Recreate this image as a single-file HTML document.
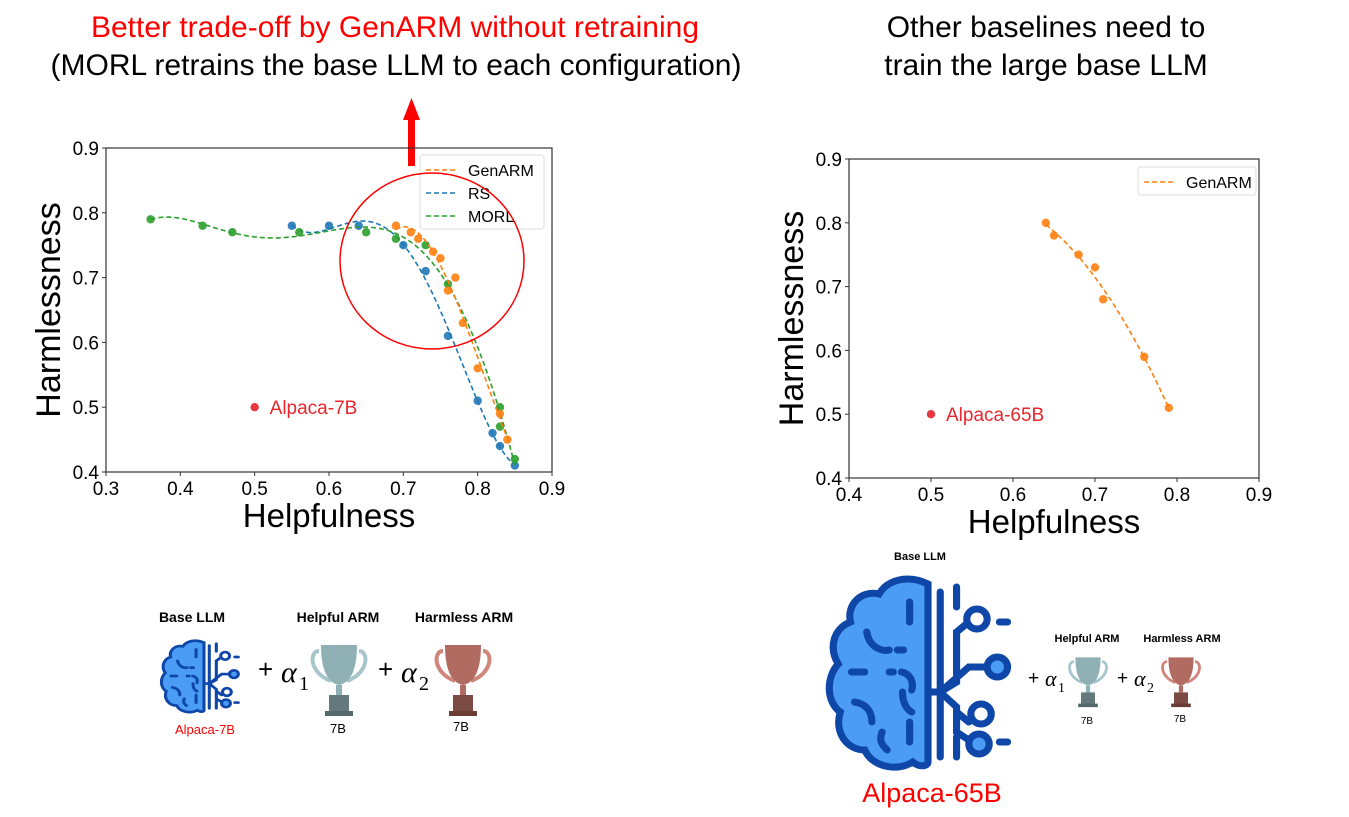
<!DOCTYPE html>
<html><head><meta charset="utf-8"><style>
body{margin:0;width:1349px;height:817px;background:#fff;overflow:hidden;font-family:"Liberation Sans","DejaVu Sans",sans-serif}
svg{position:absolute;left:0;top:0}
</style></head><body>
<svg id="s" width="1349" height="817" viewBox="0 0 1349 817">
<defs>
<g id="brain">
<path d="M100,12 C80,2 60,8 52,22 C35,18 20,32 24,50 C8,56 2,75 12,92 C0,105 0,130 14,140 C8,160 20,178 38,178 C45,195 70,200 85,190 C92,196 100,194 100,190 Z" fill="#4a9cf5" stroke="#0e47a8" stroke-width="7"/>
<g stroke="#0e47a8" stroke-width="7" fill="none" stroke-linecap="round">
<path d="M82,30 L82,50 M40,60 C42,75 55,80 62,78 M70,78 L76,78 M25,100 L38,100 M62,100 L66,100 M74,100 C84,102 86,112 84,118 M28,130 C40,132 45,140 45,150 M75,120 C75,132 80,138 84,140 M82,150 L82,170 M55,160 C52,168 54,172 60,178"/>
<path d="M112,20 L112,185 M128,15 L128,35 M128,165 L128,185 M100,120 L112,120 M112,120 L128,110 L128,60 L140,50 M112,120 L140,95 L160,95 M112,120 L128,135 L128,140 L140,150 M128,140 L128,160 L140,168 M170,50 L178,50 M170,170 L178,170"/>
</g>
<circle cx="148" cy="47" r="10" fill="#fff" stroke="#0e47a8" stroke-width="7"/>
<circle cx="168" cy="95" r="10" fill="#4a9cf5" stroke="#0e47a8" stroke-width="7"/>
<circle cx="152" cy="142" r="10" fill="#fff" stroke="#0e47a8" stroke-width="7"/>
<circle cx="150" cy="172" r="10" fill="#4a9cf5" stroke="#0e47a8" stroke-width="7"/>
</g>
<g id="cupA">
<path d="M10,8 C0,8 0,30 22,38 M50,8 C60,8 60,30 38,38" fill="none" stroke="#a7c6cc" stroke-width="4"/>
<path d="M12,2 L48,2 C48,30 40,40 30,42 C20,40 12,30 12,2 Z" fill="#8fb0b4"/>
<rect x="27" y="42" width="6" height="10" fill="#8fb0b4"/>
<rect x="20" y="52" width="20" height="18" fill="#65797c"/>
<rect x="16" y="68" width="28" height="5" fill="#55696c"/>
</g>
<g id="cupB">
<path d="M10,8 C0,8 0,30 22,38 M50,8 C60,8 60,30 38,38" fill="none" stroke="#d0867a" stroke-width="4"/>
<path d="M12,2 L48,2 C48,30 40,40 30,42 C20,40 12,30 12,2 Z" fill="#b26b60"/>
<rect x="27" y="42" width="6" height="10" fill="#b26b60"/>
<rect x="20" y="52" width="20" height="18" fill="#7a4a43"/>
<rect x="16" y="68" width="28" height="5" fill="#6a3c36"/>
</g>
<clipPath id="clipL"><rect x="106" y="148" width="446" height="324"/></clipPath>
<clipPath id="clipR"><rect x="849" y="159" width="410" height="319"/></clipPath>
</defs>
<text x="395" y="37" font-size="30" fill="#ff0000" text-anchor="middle">Better trade-off by GenARM without retraining</text>
<text x="396" y="75" font-size="30" fill="#000" text-anchor="middle">(MORL retrains the base LLM to each configuration)</text>
<text x="1046" y="37" font-size="30" fill="#000" text-anchor="middle">Other baselines need to</text>
<text x="1046" y="75" font-size="30" fill="#000" text-anchor="middle">train the large base LLM</text>
<g><rect x="408" y="118" width="7" height="48" fill="#f00"/><polygon points="403,120 420,120 411.5,98" fill="#f00"/></g>
<g id="left"></g>
<g id="right"></g>
<ellipse cx="432" cy="261" rx="92" ry="88" fill="none" stroke="#f00" stroke-width="1.5"/>
<g font-weight="bold" font-size="14">
<text x="192" y="622" text-anchor="middle">Base LLM</text>
<use href="#brain" transform="translate(160,638) scale(0.44,0.38)"/>
<text x="205" y="734" text-anchor="middle" fill="#f00" font-weight="normal" font-size="13">Alpaca-7B</text>
<text x="338" y="622" text-anchor="middle">Helpful ARM</text>
<text x="464" y="622" text-anchor="middle">Harmless ARM</text>
<text x="258" y="678" font-size="26" font-weight="normal">+</text>
<text x="281" y="682" font-size="30" font-weight="normal" font-style="italic" font-family="Liberation Serif,serif">α</text><text x="299" y="690" font-size="20" font-weight="normal" font-family="Liberation Serif,serif">1</text>
<use href="#cupA" transform="translate(309,643)"/>
<text x="378" y="678" font-size="26" font-weight="normal">+</text>
<text x="401" y="682" font-size="30" font-weight="normal" font-style="italic" font-family="Liberation Serif,serif">α</text><text x="419" y="690" font-size="20" font-weight="normal" font-family="Liberation Serif,serif">2</text>
<use href="#cupB" transform="translate(433,643)"/>
<text x="338" y="733" text-anchor="middle" font-weight="normal" font-size="13">7B</text>
<text x="461" y="731" text-anchor="middle" font-weight="normal" font-size="13">7B</text>
</g>
<g font-weight="bold" font-size="11">
<text x="920" y="560" text-anchor="middle">Base LLM</text>
<use href="#brain" transform="translate(826,572) scale(1.02,1.0)"/>
<text x="932" y="802" text-anchor="middle" fill="#f00" font-weight="normal" font-size="27">Alpaca-65B</text>
<text x="1087" y="642" text-anchor="middle">Helpful ARM</text>
<text x="1182" y="642" text-anchor="middle">Harmless ARM</text>
<text x="1028" y="684" font-size="19" font-weight="normal">+</text>
<text x="1045" y="686" font-size="22" font-weight="normal" font-style="italic" font-family="Liberation Serif,serif">α</text><text x="1058" y="692" font-size="14" font-weight="normal" font-family="Liberation Serif,serif">1</text>
<use href="#cupA" transform="translate(1067,656) scale(0.7)"/>
<text x="1117" y="684" font-size="19" font-weight="normal">+</text>
<text x="1134" y="686" font-size="22" font-weight="normal" font-style="italic" font-family="Liberation Serif,serif">α</text><text x="1147" y="692" font-size="14" font-weight="normal" font-family="Liberation Serif,serif">2</text>
<use href="#cupB" transform="translate(1160,656) scale(0.7)"/>
<text x="1087" y="724" text-anchor="middle" font-weight="normal" font-size="10">7B</text>
<text x="1180" y="722" text-anchor="middle" font-weight="normal" font-size="10">7B</text>
</g>
</svg>
<script>
const genX=[0.69,0.71,0.72,0.74,0.75,0.77,0.76,0.78,0.80,0.83,0.84];
const genY=[0.78,0.77,0.76,0.74,0.73,0.70,0.68,0.63,0.56,0.49,0.45];
const rsX=[0.55,0.60,0.64,0.70,0.73,0.76,0.80,0.82,0.83,0.85];
const rsY=[0.78,0.78,0.78,0.75,0.71,0.61,0.51,0.46,0.44,0.41];
const morlX=[0.36,0.43,0.47,0.56,0.65,0.69,0.73,0.76,0.83,0.83,0.85];
const morlY=[0.79,0.78,0.77,0.77,0.77,0.76,0.75,0.69,0.50,0.47,0.42];
const gen65X=[0.64,0.65,0.68,0.70,0.71,0.76,0.79];
const gen65Y=[0.80,0.78,0.75,0.73,0.68,0.59,0.51];
const leftXTicks=["0.3","0.4","0.5","0.6","0.7","0.8","0.9"];
const rightXTicks=["0.4","0.5","0.6","0.7","0.8","0.9"];
const yTicks=["0.4","0.5","0.6","0.7","0.8","0.9"];
const NS="http://www.w3.org/2000/svg";
function mk(p,t,a){const e=document.createElementNS(NS,t);for(const k in a)e.setAttribute(k,a[k]);p.appendChild(e);return e;}
function polyfit(xs,ys,deg){
 const mx=xs.reduce((a,b)=>a+b,0)/xs.length;let sd=Math.max(...xs.map(v=>Math.abs(v-mx)))||1;
 const n=deg+1,A=[],b=[];for(let i=0;i<n;i++){A.push(new Array(n).fill(0));b.push(0);}
 xs.forEach((x,k)=>{const u=(x-mx)/sd;const pw=[];for(let i=0;i<n;i++)pw.push(Math.pow(u,i));for(let i=0;i<n;i++){b[i]+=pw[i]*ys[k];for(let j=0;j<n;j++)A[i][j]+=pw[i]*pw[j];}});
 for(let i=0;i<n;i++)A[i][i]+=1e-9;
 for(let i=0;i<n;i++){let p=i;for(let r=i+1;r<n;r++)if(Math.abs(A[r][i])>Math.abs(A[p][i]))p=r;[A[i],A[p]]=[A[p],A[i]];[b[i],b[p]]=[b[p],b[i]];for(let r=0;r<n;r++){if(r===i)continue;const f=A[r][i]/A[i][i];for(let c=i;c<n;c++)A[r][c]-=f*A[i][c];b[r]-=f*b[i];}}
 const co=b.map((v,i)=>v/A[i][i]);
 return x=>{const u=(x-mx)/sd;let s=0;for(let i=n-1;i>=0;i--)s=s*u+co[i];return s;};
}
function chart(g,box,xmin,xmax,xt,series,alpLabel,legend,clip){
 const sx=v=>box.l+(v-xmin)/(xmax-xmin)*(box.r-box.l);
 const sy=v=>box.b-(v-0.4)/0.5*(box.b-box.t);
 const fr=mk(g,"rect",{x:box.l,y:box.t,width:box.r-box.l,height:box.b-box.t,fill:"none",stroke:"#333","stroke-width":1.2});
 
 
 xt.forEach(t=>{const x=sx(+t);mk(g,"line",{x1:x,x2:x,y1:box.b,y2:box.b+4,stroke:"#333"});const tx=mk(g,"text",{x:x,y:box.b+23,"font-size":19,"text-anchor":"middle"});tx.textContent=t;
  
  });
 yTicks.forEach(t=>{const y=sy(+t);mk(g,"line",{x1:box.l-4,x2:box.l,y1:y,y2:y,stroke:"#333"});const tx=mk(g,"text",{x:box.l-7,y:y+7,"font-size":19,"text-anchor":"end"});tx.textContent=t;
  
  });
 const xl=mk(g,"text",{x:(box.l+box.r)/2,y:box.b+55,"font-size":33,"text-anchor":"middle"});xl.textContent="Helpfulness";
 
 
 const yl=mk(g,"text",{x:0,y:0,"font-size":34,"text-anchor":"middle",transform:"translate("+(box.l-46)+","+((box.t+box.b)/2)+") rotate(-90)"});yl.textContent="Harmlessness";
 
 
 series.forEach(s=>{
  const f=polyfit(s.x,s.y,s.deg);
  const x0=Math.min(...s.x),x1=Math.max(...s.x);let d="";
  for(let i=0;i<=120;i++){const x=x0+(x1-x0)*i/120;d+=(i?"L":"M")+sx(x).toFixed(1)+","+sy(f(x)).toFixed(1);}
  const ln=mk(g,"path",{d:d,fill:"none",stroke:s.c,"stroke-width":1.6,"stroke-dasharray":"5,3","clip-path":"url(#"+clip+")"});
  
  
  s.x.forEach((v,i)=>{const c=mk(g,"circle",{cx:sx(v),cy:sy(s.y[i]),r:4.2,fill:s.c,opacity:0.9});
   
   });
 });
 const ap=mk(g,"circle",{cx:sx(0.5),cy:sy(0.5),r:4.2,fill:"#e8383d"});
 
 
 const at=mk(g,"text",{x:sx(0.5)+15,y:sy(0.5)+7,"font-size":19,fill:"#e8262c"});at.textContent=alpLabel;
 
 
 const lg=mk(g,"g",{});
 
 
 mk(lg,"rect",{x:legend.x,y:legend.y,width:legend.w,height:legend.items.length*23+5,rx:3,fill:"#fff","fill-opacity":0.85,stroke:"#ddd"});
 legend.items.forEach((it,i)=>{const y=legend.y+15+i*23;mk(lg,"line",{x1:legend.x+6,x2:legend.x+38,y1:y,y2:y,stroke:it.c,"stroke-width":1.6,"stroke-dasharray":"5,3"});const t=mk(lg,"text",{x:legend.x+48,y:y+6,"font-size":16});t.textContent=it.n;
  
  });
}
const O="#ff7f0e",B="#1f77b4",G="#2ca02c";
chart(document.getElementById("left"),{l:106,r:552,t:148,b:472},0.3,0.9,leftXTicks,
 [{x:rsX,y:rsY,c:B,n:"rs",deg:4},{x:morlX,y:morlY,c:G,n:"morl",deg:5},{x:genX,y:genY,c:O,n:"genarm",deg:3}],"Alpaca-7B",
 {x:420,y:155,w:124,items:[{n:"GenARM",c:O},{n:"RS",c:B},{n:"MORL",c:G}]},"clipL");
chart(document.getElementById("right"),{l:849,r:1259,t:159,b:478},0.4,0.9,rightXTicks,
 [{x:gen65X,y:gen65Y,c:O,n:"genarm-65b",deg:2}],"Alpaca-65B",
 {x:1138,y:167,w:118,items:[{n:"GenARM",c:O}]},"clipR");
</script>
</body></html>
